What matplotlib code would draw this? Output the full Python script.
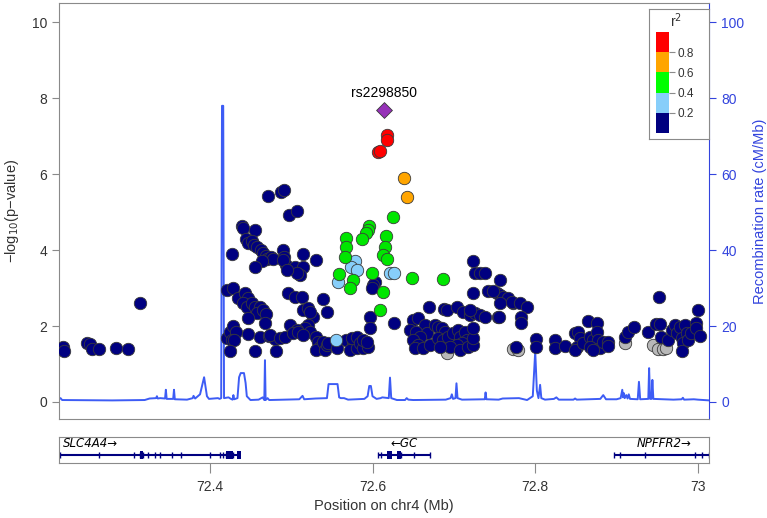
"""
LocusZoom-style regional association plot around rs2298850 (chr4, GC locus)
"""

import matplotlib
matplotlib.use('Agg')
import matplotlib.pyplot as plt
from matplotlib.patches import Rectangle

plt.rcParams['font.family'] = ['Liberation Sans', 'DejaVu Sans']

XLIM = (72.215, 73.014)

# SNPs by LD class (position in Mb, -log10 p)
navy_pos = [72.220, 72.221, 72.2487, 72.2528, 72.2549, 72.2635, 72.2847, 72.2995, 72.3146,
            72.472, 72.487, 72.491, 72.497, 72.507, 72.4396, 72.441, 72.456,
            72.4445, 72.447, 72.4515, 72.454, 72.458, 72.4626, 72.4657, 72.469, 72.4707,
            72.4748, 72.478, 72.4638, 72.427, 72.4555, 72.490, 72.491, 72.4937, 72.490,
            72.515, 72.5047, 72.514, 72.511, 72.507, 72.531, 72.4945,
            72.421, 72.428, 72.435, 72.443, 72.447, 72.441, 72.4453, 72.4515, 72.4555,
            72.4617, 72.4576, 72.4657, 72.469, 72.468, 72.447, 72.4965, 72.5047, 72.513,
            72.5388, 72.515, 72.521, 72.527, 72.523, 72.5437, 72.521, 72.517, 72.523,
            72.4986, 72.507, 72.421, 72.4248, 72.4289, 72.4318, 72.427, 72.430, 72.4248,
            72.4555, 72.447, 72.4617, 72.473, 72.480, 72.481, 72.474, 72.486, 72.4924,
            72.5026, 72.5088, 72.515, 72.531, 72.5334, 72.5354, 72.531, 72.5395, 72.5416,
            72.5437, 72.5456, 72.556, 72.568, 72.5764, 72.572, 72.5805, 72.5744, 72.5805,
            72.5846, 72.5886, 72.595, 72.597, 72.597, 72.603, 72.601, 72.599, 72.6264,
            72.688, 72.5886, 72.5927, 72.670, 72.691, 72.7034, 72.7115, 72.720, 72.726,
            72.732, 72.738, 72.7545, 72.724, 72.724, 72.726, 72.732, 72.738, 72.757,
            72.742, 72.7526, 72.757, 72.761, 72.767, 72.773, 72.757, 72.7484, 72.771,
            72.781, 72.7895, 72.783, 72.782, 72.7558, 72.720,
            72.650, 72.656, 72.6645, 72.646, 72.654, 72.6666, 72.658, 72.650, 72.656,
            72.652, 72.662, 72.6706, 72.6768, 72.681, 72.685, 72.689, 72.681, 72.687,
            72.693, 72.699, 72.7054, 72.7075, 72.7136, 72.7157, 72.7096, 72.7034, 72.695,
            72.683, 72.7075, 72.7177, 72.724, 72.724, 72.724,
            72.776, 72.801, 72.801, 72.824, 72.824, 72.8365, 72.8488, 72.853, 72.855,
            72.8517, 72.8488, 72.859, 72.865, 72.867, 72.8713, 72.8755, 72.8755, 72.8775,
            72.8796, 72.8836, 72.8898, 72.8898, 72.867, 72.871, 72.910, 72.914, 72.9213,
            72.939, 72.949, 72.953, 72.952, 72.955, 72.9635, 72.9677, 72.9717, 72.974,
            72.978, 72.980, 72.982, 72.984, 72.986, 72.980, 72.988, 72.992, 72.998,
            72.998, 73.003, 73.000]
navy_logp = [1.44, 1.35, 1.56, 1.52, 1.40, 1.40, 1.43, 1.39, 2.60,
             5.43, 5.53, 5.57, 4.93, 5.03, 4.64, 4.59, 4.52,
             4.29, 4.18, 4.25, 4.14, 4.07, 4.00, 3.92, 3.85, 3.76,
             3.81, 3.76, 3.70, 3.89, 3.55, 4.00, 3.83, 3.61, 3.74,
             3.90, 3.55, 3.55, 3.35, 3.39, 3.74, 3.48,
             2.95, 3.01, 2.73, 2.86, 2.73, 2.60, 2.51, 2.60, 2.51,
             2.51, 2.34, 2.42, 2.31, 2.07, 2.20, 2.86, 2.77, 2.77,
             2.71, 2.42, 2.47, 2.25, 2.38, 2.38, 2.03, 1.94, 1.85,
             2.03, 1.90, 1.68, 1.85, 2.01, 1.85, 1.63, 1.63, 1.35,
             1.35, 1.79, 1.70, 1.74, 1.65, 1.35, 1.76, 1.68, 1.72,
             1.81, 1.85, 1.76, 1.72, 1.59, 1.46, 1.37, 1.59, 1.37,
             1.50, 1.55, 1.41, 1.63, 1.59, 1.37, 1.41, 1.68, 1.72,
             1.55, 1.41, 1.46, 2.25, 1.94, 3.17, 3.08, 3.00, 2.09,
             2.44, 1.63, 1.59, 2.49, 2.42, 2.51, 2.38, 2.29, 2.34,
             2.29, 2.25, 2.25, 2.86, 3.70, 3.39, 3.39, 3.39, 3.20,
             2.91, 2.86, 2.82, 2.77, 2.73, 2.60, 2.60, 2.91, 2.64,
             2.60, 2.51, 2.25, 2.07, 2.25, 2.42,
             2.16, 2.20, 2.03, 1.90, 1.85, 1.81, 1.72, 1.63, 1.50,
             1.41, 1.41, 1.50, 2.03, 1.98, 1.94, 1.85, 1.68, 1.63,
             1.72, 1.81, 1.90, 1.72, 1.85, 1.63, 1.55, 1.50, 1.46,
             1.46, 1.37, 1.46, 1.50, 1.68, 1.94,
             1.46, 1.65, 1.44, 1.63, 1.41, 1.48, 1.81, 1.85, 1.68,
             1.44, 1.37, 1.55, 2.12, 1.72, 1.63, 2.07, 1.85, 1.63,
             1.41, 1.59, 1.59, 1.48, 1.46, 1.37, 1.72, 1.85, 1.98,
             1.83, 2.05, 2.05, 2.77, 1.72, 1.63, 1.90, 2.03, 1.81,
             1.98, 1.68, 1.55, 2.03, 1.81, 1.33, 1.63, 1.81, 2.07,
             1.94, 1.74, 2.42]

lblue_pos = [72.579, 72.573, 72.5805, 72.557, 72.621, 72.626, 72.5547]
lblue_logp = [3.70, 3.56, 3.48, 3.17, 3.39, 3.39, 1.63]

green_pos = [72.6255, 72.596, 72.595, 72.592, 72.587, 72.6165, 72.615, 72.613, 72.618,
             72.568, 72.567, 72.566, 72.559, 72.576, 72.572, 72.599, 72.613, 72.609,
             72.649, 72.6866]
green_logp = [4.88, 4.64, 4.53, 4.44, 4.29, 4.38, 4.07, 3.87, 3.76,
              4.31, 4.07, 3.81, 3.38, 3.21, 3.01, 3.39, 2.89, 2.42,
              3.27, 3.25]

orange_pos = [72.639, 72.643]
orange_logp = [5.89, 5.41]

red_pos = [72.618, 72.618, 72.607, 72.609]
red_logp = [7.03, 6.90, 6.59, 6.62]

gray_pos = [72.692, 72.773, 72.779, 72.910, 72.945, 72.951, 72.957, 72.961]
gray_logp = [1.30, 1.39, 1.37, 1.56, 1.50, 1.39, 1.39, 1.41]

lead_snp = 'rs2298850'
lead_pos = 72.6141
lead_logp = 7.69

# recombination rate (cM/Mb)
recomb_pos = [72.2150, 72.2165, 72.2185, 72.2800, 72.3200, 72.3260, 72.3340, 72.3350,
              72.3360, 72.3390, 72.3450, 72.3460, 72.3470, 72.3550, 72.3560, 72.3570,
              72.3720, 72.3790, 72.3800, 72.3820, 72.3880, 72.3930, 72.3965, 72.3990,
              72.4100, 72.4120, 72.4140, 72.4150, 72.4165, 72.4175, 72.4230, 72.4260,
              72.4280, 72.4290, 72.4300, 72.4340, 72.4360, 72.4380, 72.4420, 72.4440,
              72.4455, 72.4500, 72.4600, 72.4650, 72.4670, 72.4678, 72.4686, 72.4710,
              72.4730, 72.4900, 72.5100, 72.5140, 72.5160, 72.5300, 72.5440, 72.5460,
              72.5570, 72.5590, 72.5610, 72.5650, 72.5700, 72.5900, 72.5940, 72.5960,
              72.5980, 72.6000, 72.6050, 72.6100, 72.6120, 72.6200, 72.6215, 72.6230,
              72.6300, 72.6400, 72.6420, 72.6440, 72.6500, 72.6900, 72.6960, 72.6975,
              72.6990, 72.7020, 72.7032, 72.7045, 72.7100, 72.7380, 72.7390, 72.7400,
              72.7550, 72.7600, 72.7800, 72.7900, 72.7970, 72.8000, 72.8020, 72.8040,
              72.8060, 72.8075, 72.8120, 72.8230, 72.8260, 72.8290, 72.8470, 72.8490,
              72.8510, 72.8800, 72.8836, 72.8870, 72.9000, 72.9050, 72.9070, 72.9080,
              72.9090, 72.9100, 72.9120, 72.9135, 72.9150, 72.9165, 72.9260, 72.9275,
              72.9290, 72.9390, 72.9400, 72.9412, 72.9430, 72.9440, 72.9452, 72.9700,
              72.9800, 72.9815, 72.9830, 72.9950, 73.0000, 73.0140]
recomb_rate = [0.8, 1.0, 0.5, 0.4, 0.5, 0.9, 1.0, 1.5,
               0.9, 1.0, 0.9, 3.2, 0.8, 0.8, 3.2, 0.7,
               0.6, 1.0, 1.6, 0.9, 2.0, 6.5, 1.5, 0.8,
               1.0, 0.8, 1.0, 78.0, 78.0, 1.0, 1.2, 0.8,
               0.6, 1.8, 0.7, 1.0, 6.5, 7.6, 7.6, 5.0,
               1.5, 0.5, 0.6, 1.2, 0.5, 11.0, 0.5, 1.0,
               0.5, 0.6, 0.7, 1.6, 0.7, 0.9, 1.0, 4.7,
               4.7, 1.2, 1.0, 1.0, 0.6, 0.8, 1.5, 4.2,
               4.2, 1.5, 0.8, 1.0, 1.2, 1.0, 6.4, 1.0,
               0.5, 0.5, 1.0, 0.6, 0.5, 0.6, 1.0, 2.0,
               0.8, 1.0, 4.9, 1.0, 0.6, 0.7, 2.5, 0.7,
               0.6, 0.9, 1.0, 0.5, 1.5, 13.3, 3.0, 1.0,
               4.5, 1.0, 0.6, 0.8, 1.2, 0.6, 0.6, 0.9,
               0.6, 0.8, 1.8, 0.7, 0.7, 1.0, 3.2, 1.2,
               2.3, 1.0, 1.8, 0.9, 2.0, 0.8, 0.7, 5.3,
               0.7, 0.8, 8.9, 0.8, 0.8, 5.8, 0.8, 0.6,
               0.7, 1.1, 0.6, 0.7, 0.6, 0.4]

# genes: name, start, end, exon ticks, exon blocks (Mb)
genes = [
    ('SLC4A4\u2192', 72.200, 72.4385,
     [72.2163, 72.2643, 72.3064, 72.3142, 72.3184, 72.3243, 72.3322, 72.3382,
      72.3532, 72.3640, 72.4000, 72.4120, 72.4162, 72.4204, 72.4283],
     [(72.3142, 72.3184), (72.4204, 72.4283), (72.4331, 72.4385)]),
    ('\u2190GC', 72.6066, 72.6702,
     [72.6066, 72.6103, 72.6355, 72.6505, 72.6702],
     [(72.6174, 72.6234), (72.6307, 72.6355)]),
    ('NPFFR2\u2192', 72.8967, 73.030,
     [72.8967, 72.9046, 72.9346, 72.9958, 73.0048, 73.0139],
     []),
]
gene_label_x = [72.2190, 72.6385, 72.9590]
gene_label_ha = ['left', 'center', 'center']

legend_colors = ['#000080', '#87CEFA', '#00FF00', '#FFA500', '#FF0000']
legend_ticks = [0.2, 0.4, 0.6, 0.8]

FRAME = '#8a8a8a'
TEXT = '#333333'
BLUE = '#3344DD'
RECOMB = '#3D5CF5'


def main():
    fig = plt.figure(figsize=(7.67, 5.18), dpi=100)

    ax = fig.add_axes([0.0773, 0.1911, 0.8475, 0.8025])
    ax2 = ax.twinx()
    ax.set_zorder(ax2.get_zorder() + 1)
    ax.patch.set_visible(False)

    ax2.plot(recomb_pos, recomb_rate, color=RECOMB, lw=1.4, zorder=1)
    ax2.set_ylim(-4.5, 105)
    ax2.set_yticks([0, 20, 40, 60, 80, 100])
    ax2.tick_params(axis='y', colors=BLUE, labelsize=10, length=5, width=0.8)
    ax2.spines['right'].set_color(BLUE)
    for s in ('left', 'top', 'bottom'):
        ax2.spines[s].set_visible(False)
    ax2.set_ylabel('Recombination rate (cM/Mb)', color=BLUE, fontsize=10.5, labelpad=6)

    kw = dict(s=80, edgecolors='#3a3a3a', linewidths=0.6, zorder=3)
    ax.scatter(gray_pos, gray_logp, c='#B8B8B8', **kw)
    ax.scatter(navy_pos, navy_logp, c='#000080', **kw)
    ax.scatter(lblue_pos, lblue_logp, c='#87CEFA', **kw)
    ax.scatter(green_pos, green_logp, c='#00E600', **kw)
    ax.scatter(orange_pos, orange_logp, c='#FFA500', **kw)
    ax.scatter(red_pos, red_logp, c='#FF0000', **kw)
    ax.scatter([lead_pos], [lead_logp], marker='D', s=65, c='#9632B8',
               edgecolors='#3a3a3a', linewidths=0.6, zorder=4)
    ax.text(lead_pos, lead_logp + 0.27, lead_snp, ha='center', va='bottom',
            fontsize=10, color='black')

    ax.set_xlim(XLIM)
    ax.set_ylim(-0.45, 10.5)
    ax.set_xticks([])
    ax.set_yticks([0, 2, 4, 6, 8, 10])
    ax.tick_params(axis='y', colors=FRAME, labelcolor=TEXT, labelsize=10, length=5, width=0.8)
    ax.set_ylabel('\u2212log$_{10}$(p\u2212value)', color=TEXT, fontsize=10.5, labelpad=8)
    for s in ('left', 'top', 'bottom'):
        ax.spines[s].set_color(FRAME)
        ax.spines[s].set_linewidth(0.8)
    ax.spines['right'].set_visible(False)

    # r^2 legend
    lg = fig.add_axes([0.8462, 0.7311, 0.0782, 0.251])
    lg.set_xticks([])
    lg.set_yticks([])
    for s in lg.spines.values():
        s.set_color(FRAME)
        s.set_linewidth(0.8)
    lg.text(0.45, 0.91, 'r$^2$', transform=lg.transAxes, ha='center', va='center',
            fontsize=10, color=TEXT)
    cb = fig.add_axes([0.8553, 0.7438, 0.0173, 0.1938])
    for i, col in enumerate(legend_colors):
        cb.bar(0.5, 0.2, width=1, bottom=i * 0.2, color=col, edgecolor='none')
    cb.set_xlim(0, 1)
    cb.set_ylim(0, 1)
    cb.set_xticks([])
    cb.yaxis.tick_right()
    cb.set_yticks(legend_ticks)
    cb.set_yticklabels([f'{t:.1f}' for t in legend_ticks])
    cb.tick_params(axis='y', colors=FRAME, labelcolor=TEXT, labelsize=8.5, length=4,
                   width=0.8, pad=2)
    for s in cb.spines.values():
        s.set_visible(False)

    # gene track
    gx = fig.add_axes([0.0773, 0.1062, 0.8475, 0.0502])
    gx.set_xlim(XLIM)
    gx.set_ylim(0, 1)
    gx.set_yticks([])
    for s in gx.spines.values():
        s.set_color(FRAME)
        s.set_linewidth(0.8)
    for (name, start, end, exons, blocks), lx, ha in zip(genes, gene_label_x, gene_label_ha):
        gx.plot([start, end], [0.31, 0.31], color='#000080', lw=1.5, solid_capstyle='butt')
        gx.vlines(exons, 0.19, 0.43, color='#000080', lw=1.0)
        for b0, b1 in blocks:
            gx.add_patch(Rectangle((b0, 0.16), b1 - b0, 0.30, color='#000080', lw=0))
        gx.text(lx, 0.50, name, ha=ha, va='bottom', fontsize=8.5, style='italic',
                color='black', family=['DejaVu Sans'])
    gx.set_xticks([72.4, 72.6, 72.8, 73.0])
    gx.set_xticklabels(['72.4', '72.6', '72.8', '73'])
    gx.tick_params(axis='x', colors=FRAME, labelcolor=TEXT, labelsize=10, length=7,
                   width=0.8, pad=5)
    gx.set_xlabel('Position on chr4 (Mb)', color=TEXT, fontsize=10.5, labelpad=4)

    fig.savefig('out.png', dpi=100)
    plt.close(fig)


if __name__ == '__main__':
    main()
